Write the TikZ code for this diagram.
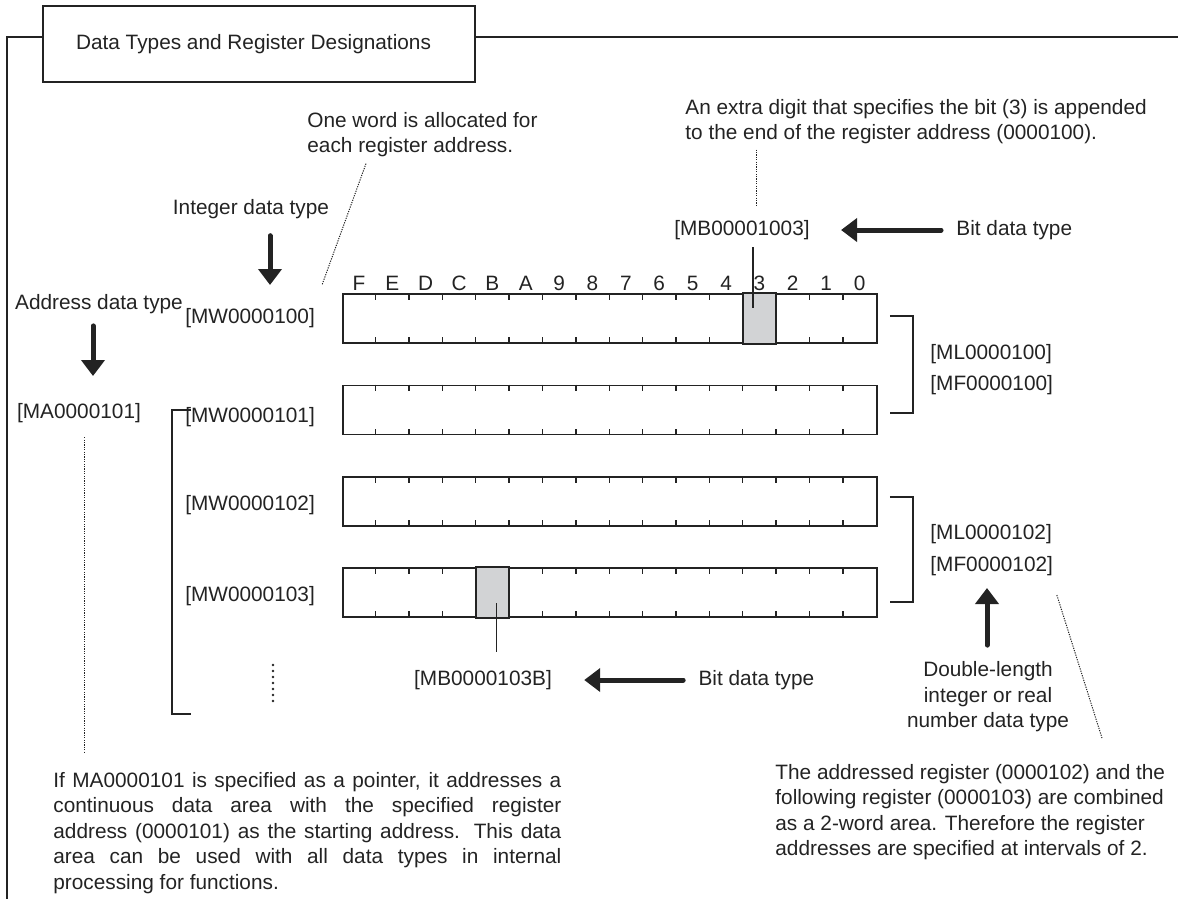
\documentclass[tikz,border=0pt]{standalone}
\usepackage{fontspec}
\setmainfont{Liberation Sans}
\usetikzlibrary{arrows.meta,positioning,calc}
\definecolor{ink}{RGB}{35,35,35}
\definecolor{bitShade}{RGB}{210,211,213}
\newcommand{\regfont}{\fontsize{10.4pt}{12.7pt}\selectfont}

\begin{document}
\begin{tikzpicture}[x=0.5pt,y=-0.5pt,
  txt/.style={font=\regfont,text=ink,inner sep=1pt},
  note/.style={txt,align=left,anchor=north west},
  word/.style={draw=ink,line width=0.8pt,minimum width=267pt,minimum height=24.5pt,inner sep=0pt},
  tick/.style={draw=ink,line width=0.7pt},
  shade/.style={draw=ink,line width=0.8pt,fill=bitShade},
  bigarrow/.style={-{Triangle[length=8pt,width=11.5pt]},line width=2.5pt,line cap=round,ink},
  leader/.style={ink,line width=0.5pt,dash pattern=on 0.6pt off 0.6pt},
  brk/.style={ink,line width=0.75pt}]
  \useasboundingbox (0,0) rectangle (1178,901);

  \node[draw=ink,line width=0.9pt,minimum height=38pt,minimum width=216pt,
        font=\regfont,text=ink] (title) at (259,44) {\raisebox{2.5pt}{Data Types and Register Designations}\hspace*{5.5pt}};
  \coordinate (frameTL) at (7,37);
  \coordinate (frameBL) at (7,899);
  \coordinate (frameTR) at (1178,37);
  \draw[ink,line width=0.6pt] (title.west |- frameTL) -- (frameTL) -- (frameBL);
  \draw[ink,line width=0.6pt] (title.east |- frameTL) -- (frameTR);

  \node[word] (w0) at (610,318.5) {};
  \node[word] (w1) at (610,410) {};
  \node[word] (w2) at (610,501.5) {};
  \node[word] (w3) at (610,592.5) {};
  \foreach \r in {0,...,3}
    \foreach \i in {1,...,15}
      \draw[tick] ($(w\r.north west)+(33.375*\i,0)$) -- ++(0,6.5)
                  ($(w\r.south west)+(33.375*\i,0)$) -- ++(0,-6.5);
  \draw[shade] ($(w0.north west)+(12*33.375,0)$) rectangle ($(w0.south west)+(13*33.375,0)$);
  \draw[shade] ($(w3.north west)+(4*33.375,0)$) rectangle ($(w3.south west)+(5*33.375,0)$);
  \foreach \b [count=\i from 0] in {F,E,D,C,B,A,9,8,7,6,5,4,3,2,1,0}
    \node[txt] (bit\b) at ($(w0.north west)+(33.375*\i+16.7,-10)$) {\b};

  \node[txt,left=12.5pt of w0] (lw0) {[MW0000100]};
  \node[txt,left=12.5pt of w1,yshift=-3.5pt] (lw1) {[MW0000101]};
  \node[txt,left=12.5pt of w2,yshift=-2pt] (lw2) {[MW0000102]};
  \node[txt,left=12.5pt of w3,yshift=-2pt] (lw3) {[MW0000103]};

  \node[txt] (intType) at (251,209) {Integer data type};
  \node[txt] (addrType) at (99,304) {Address data type};
  \node[txt] (ma) at (79,413) {[MA0000101]};
  \coordinate (intTip) at (270,285);
  \coordinate (addrTip) at (93,376);
  \draw[bigarrow,shorten <=7.3pt] (intType.south -| intTip) -- (intTip);
  \draw[bigarrow,shorten <=4.9pt] (addrType.south -| addrTip) -- (addrTip);

  \node[note] (allocNote) at (305,110) {One word is allocated for\\each register address.};
  \coordinate (allocEnd) at (322,285);
  \draw[leader] ($(allocNote.south west)+(61,4)$) -- (allocEnd);

  \node[note] (bitNote) at (683,97) {An extra digit that specifies the bit (3) is appended\\to the end of the register address (0000100).};
  \node[txt] (mb1) at (742,230) {[MB00001003]};
  \node[txt,right=71pt of mb1] (bt1) {Bit data type};
  \coordinate (bitNoteEnd) at (756,205);
  \draw[leader,shorten <=1.5pt] (bitNote.south -| bitNoteEnd) -- (bitNoteEnd);
  \draw[bigarrow,shorten <=6.5pt,shorten >=14.5pt] (bt1) -- (mb1);
  \coordinate (bit3End) at (753,308);
  \draw[brk,shorten <=2.5pt] (mb1.south -| bit3End) -- (bit3End);

  \node[txt] (mb2) at (483,680) {[MB0000103B]};
  \node[txt,right=71pt of mb2] (bt2) {Bit data type};
  \draw[bigarrow,shorten <=6.5pt,shorten >=15pt] (bt2) -- (mb2);
  \coordinate (bitBEnd) at (496.5,603);
  \draw[brk,shorten <=8pt] (mb2.north -| bitBEnd) -- (bitBEnd);

  \draw[brk] ($(w0.east)+(12,-2.5)$) -- ++(23,0) |- ($(w1.east)+(12,3)$);
  \draw[brk] ($(w2.east)+(12,-4.5)$) -- ++(23,0) |- ($(w3.east)+(12,9.5)$);
  \node[txt,anchor=west] (ml0) at (928,354) {[ML0000100]};
  \node[txt,anchor=west] (mf0) at (928,385) {[MF0000100]};
  \node[txt,anchor=west] (ml2) at (928,534) {[ML0000102]};
  \node[txt,anchor=west] (mf2) at (928,566) {[MF0000102]};

  \coordinate (ptrTop) at (191,410);
  \coordinate (ptrBot) at (172,714);
  \draw[brk] (ptrTop) -| (ptrBot) -- ++(19,0);
  \draw[ink,line width=1.3pt,line cap=round,dash pattern=on 0pt off 3pt] (273,665) -- (273,703);

  \node[txt,align=center] (dblType) at (988,697) {Double-length\\integer or real\\number data type};
  \coordinate (dblTip) at (987,588);
  \draw[bigarrow,shorten <=7.2pt] (dblType.north -| dblTip) -- (dblTip);

  \node[txt,anchor=north west,text width=254pt,align=justify] (ptrNote) at (51,770)
    {If MA0000101 is specified as a pointer, it addresses a\linebreak continuous data area with the specified register\linebreak address (0000101) as the starting address. This data\linebreak area can be used with all data types in internal\linebreak processing for functions.};
  \coordinate (maEnd) at (84,753);
  \draw[leader,shorten <=6pt] (ma.south -| maEnd) -- (maEnd);

  \node[note] (pairNote) at (773,762) {The addressed register (0000102) and the\\following register (0000103) are combined\\as a 2-word area. Therefore the register\\addresses are specified at intervals of 2.};
  \coordinate (pairEnd) at (1102,738);
  \draw[leader] ($(mf2.south east)+(1.5,17)$) -- (pairEnd);
\end{tikzpicture}
\end{document}
